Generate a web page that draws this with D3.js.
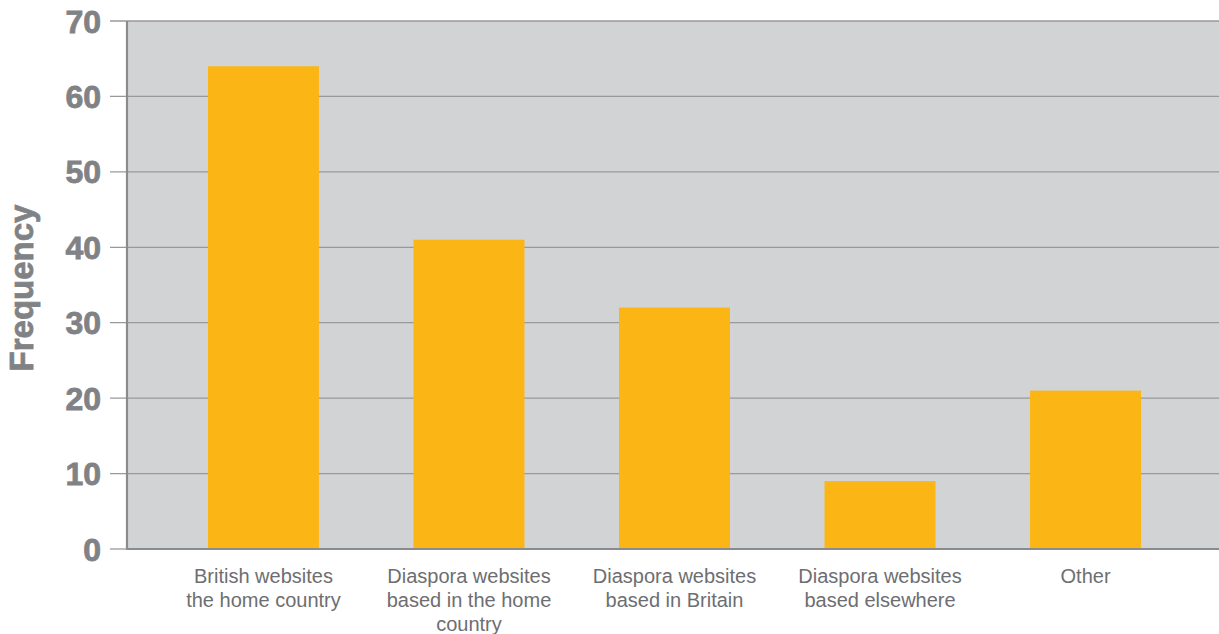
<!DOCTYPE html>
<html>
<head>
<meta charset="utf-8">
<script src="https://cdn.jsdelivr.net/npm/d3@7"></script>
<style>
  html, body { margin: 0; padding: 0; background: #fff; }
  svg { display: block; }
</style>
</head>
<body>
<svg id="chart" width="1219" height="634"></svg>
<script>
// Where readers found the websites they use
const categories = [
  "British websites|the home country",
  "Diaspora websites|based in the home|country",
  "Diaspora websites|based in Britain",
  "Diaspora websites|based elsewhere",
  "Other"
];
const frequencies = [64, 41, 32, 9, 21];
const yTicks = [0, 10, 20, 30, 40, 50, 60, 70];
const yLabel = "Frequency";

const svg = d3.select("#chart");
const W = 1219;
const plotLeft = 127, plotRight = 1222, plotTop = 21, plotBottom = 549;

const x = d3.scaleBand()
  .domain(categories)
  .range([plotLeft, plotRight])
  .paddingInner(0.46)
  .paddingOuter(0.394);

const y = d3.scaleLinear().domain([0, 70]).range([plotBottom, plotTop]);

// plot background
svg.append("rect")
  .attr("x", plotLeft).attr("y", plotTop)
  .attr("width", W - plotLeft).attr("height", plotBottom - plotTop)
  .attr("fill", "#d1d3d4");

// gridlines with tick stubs to the left of the axis
svg.append("g")
  .selectAll("line")
  .data(yTicks.filter(d => d > 0))
  .join("line")
  .attr("x1", 110).attr("x2", W)
  .attr("y1", d => y(d)).attr("y2", d => y(d))
  .attr("stroke", "#98999b")
  .attr("stroke-width", 1.3);

// bars
svg.append("g")
  .selectAll("rect")
  .data(frequencies)
  .join("rect")
  .attr("x", (d, i) => x(categories[i]))
  .attr("y", d => y(d))
  .attr("width", x.bandwidth())
  .attr("height", d => y(0) - y(d))
  .attr("fill", "#fbb615");

// axis lines
svg.append("line")
  .attr("x1", plotLeft).attr("x2", plotLeft)
  .attr("y1", plotTop).attr("y2", plotBottom + 1)
  .attr("stroke", "#8a8b8d").attr("stroke-width", 2.2);
svg.append("line")
  .attr("x1", plotLeft).attr("x2", W)
  .attr("y1", plotBottom).attr("y2", plotBottom)
  .attr("stroke", "#8a8b8d").attr("stroke-width", 2.2);
svg.append("line")
  .attr("x1", 110).attr("x2", plotLeft)
  .attr("y1", plotBottom).attr("y2", plotBottom)
  .attr("stroke", "#98999b").attr("stroke-width", 1.3);

// y tick labels
svg.append("g")
  .selectAll("text")
  .data(yTicks)
  .join("text")
  .attr("x", 101)
  .attr("y", d => y(d))
  .attr("dy", "0.36em")
  .attr("text-anchor", "end")
  .attr("font-family", "Liberation Sans, Arial, sans-serif")
  .attr("font-weight", "bold")
  .attr("font-size", 32)
  .attr("fill", "#808285")
  .attr("stroke", "#808285")
  .attr("stroke-width", 0.8)
  .text(d => d);

// y axis title
svg.append("text")
  .attr("transform", `translate(33,288) rotate(-90)`)
  .attr("text-anchor", "middle")
  .attr("font-family", "Liberation Sans, Arial, sans-serif")
  .attr("font-weight", "bold")
  .attr("font-size", 33)
  .attr("fill", "#808285")
  .attr("stroke", "#808285")
  .attr("stroke-width", 0.8)
  .text(yLabel);

// category labels
const lab = svg.append("g")
  .selectAll("text")
  .data(categories)
  .join("text")
  .attr("x", d => x(d) + x.bandwidth() / 2)
  .attr("y", 583)
  .attr("text-anchor", "middle")
  .attr("font-family", "Liberation Sans, Arial, sans-serif")
  .attr("font-size", 20)
  .attr("fill", "#6d6e71");
lab.selectAll("tspan")
  .data(d => d.split("|"))
  .join("tspan")
  .attr("x", function () { return d3.select(this.parentNode).attr("x"); })
  .attr("dy", (d, i) => i === 0 ? 0 : 24)
  .text(d => d);
</script>
</body>
</html>
